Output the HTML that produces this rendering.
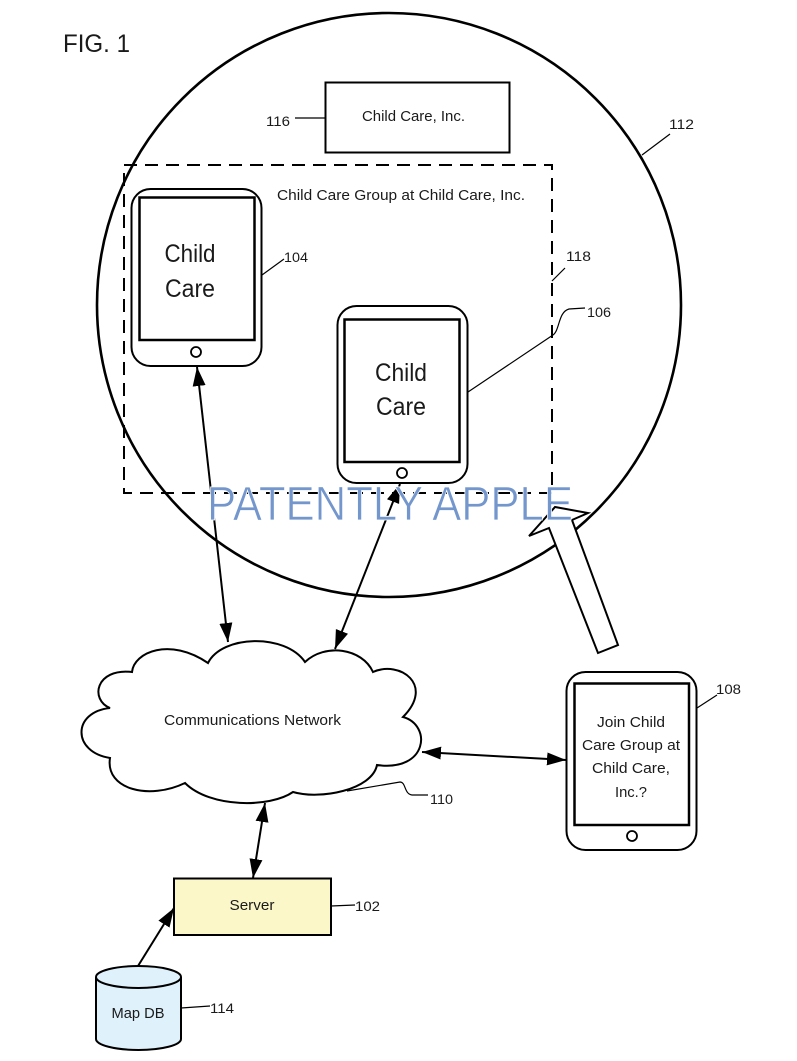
<!DOCTYPE html>
<html><head><meta charset="utf-8"><style>
html,body{margin:0;padding:0;background:#fff;}
svg{display:block;}
text{font-family:"Liberation Sans",Arial,sans-serif;fill:#1a1a1a;}
</style></head><body>
<svg width="797" height="1061" viewBox="0 0 797 1061" xmlns="http://www.w3.org/2000/svg">
<defs>
<marker id="ah" markerUnits="userSpaceOnUse" markerWidth="20" markerHeight="14" refX="19" refY="6.5" orient="auto-start-reverse" viewBox="0 0 20 14">
<path d="M0,0 L19,6.5 L0,13 z" fill="#000"/>
</marker>
</defs>
<rect width="797" height="1061" fill="#fff"/>

<text x="63" y="52" font-size="25" textLength="67" lengthAdjust="spacingAndGlyphs" fill="#333">FIG. 1</text>

<!-- big circle 112 -->
<circle cx="389" cy="305" r="292" fill="none" stroke="#000" stroke-width="2.6"/>
<line x1="642" y1="155" x2="670" y2="134" stroke="#000" stroke-width="1.2"/>
<text x="669" y="129" font-size="14" textLength="25" lengthAdjust="spacingAndGlyphs">112</text>

<!-- box 116 -->
<rect x="325.5" y="82.5" width="184" height="70" fill="#fff" stroke="#000" stroke-width="2"/>
<text x="362" y="121" font-size="14.5" textLength="103" lengthAdjust="spacingAndGlyphs">Child Care, Inc.</text>
<line x1="295" y1="118" x2="325" y2="118" stroke="#000" stroke-width="1.2"/>
<text x="266" y="126" font-size="14" textLength="24" lengthAdjust="spacingAndGlyphs">116</text>

<!-- dashed group rect 118 -->
<rect x="124" y="165" width="428" height="328" fill="none" stroke="#000" stroke-width="2" stroke-dasharray="13,8"/>
<text x="277" y="200" font-size="14.5" textLength="248" lengthAdjust="spacingAndGlyphs">Child Care Group at Child Care, Inc.</text>
<line x1="552" y1="281" x2="565" y2="268" stroke="#000" stroke-width="1.2"/>
<text x="566" y="261" font-size="14" textLength="25" lengthAdjust="spacingAndGlyphs">118</text>

<!-- device 104 -->
<rect x="131.5" y="189" width="130" height="177" rx="19" fill="#fff" stroke="#000" stroke-width="2"/>
<rect x="139.5" y="197.5" width="115" height="142.5" fill="#fff" stroke="#000" stroke-width="2.5"/>
<circle cx="196" cy="352" r="5" fill="#fff" stroke="#000" stroke-width="1.8"/>
<text x="190" y="262" font-size="25" text-anchor="middle" textLength="51" lengthAdjust="spacingAndGlyphs">Child</text>
<text x="190" y="297" font-size="25" text-anchor="middle" textLength="50" lengthAdjust="spacingAndGlyphs">Care</text>
<line x1="262" y1="275" x2="284" y2="259" stroke="#000" stroke-width="1.2"/>
<text x="284" y="262" font-size="14" textLength="24" lengthAdjust="spacingAndGlyphs">104</text>

<!-- device 106 -->
<rect x="337.5" y="306" width="130" height="177" rx="19" fill="#fff" stroke="#000" stroke-width="2"/>
<rect x="344.5" y="319.5" width="115" height="142.5" fill="#fff" stroke="#000" stroke-width="2.5"/>
<circle cx="402" cy="473" r="5" fill="#fff" stroke="#000" stroke-width="1.8"/>
<text x="401" y="381" font-size="25" text-anchor="middle" textLength="52" lengthAdjust="spacingAndGlyphs">Child</text>
<text x="401" y="415" font-size="25" text-anchor="middle" textLength="50" lengthAdjust="spacingAndGlyphs">Care</text>
<path d="M468,392 L553,335 C560,330 558,312 569,309 L585,308" fill="none" stroke="#000" stroke-width="1.2"/>
<text x="587" y="317" font-size="14" textLength="24" lengthAdjust="spacingAndGlyphs">106</text>

<!-- cloud 110 -->
<path d="M132,672 C134,652 170,637 208,663 C222,635 285,633 305,662 C325,643 362,648 373,672 C400,660 435,685 403,717 C432,725 428,772 377,765 C372,790 320,800 293,792 C270,808 210,808 185,783 C150,800 105,790 110,758 C72,752 72,712 110,708 C90,700 95,668 132,672 Z" fill="#fff" stroke="#000" stroke-width="2"/>
<text x="164" y="725" font-size="14.5" textLength="177" lengthAdjust="spacingAndGlyphs">Communications Network</text>
<path d="M347,791 L400,782 C406,782 404,794 412,795 L428,795" fill="none" stroke="#000" stroke-width="1.2"/>
<text x="430" y="804" font-size="14" textLength="23" lengthAdjust="spacingAndGlyphs">110</text>

<!-- device 108 -->
<rect x="566.5" y="672" width="130" height="178" rx="19" fill="#fff" stroke="#000" stroke-width="2"/>
<rect x="574.5" y="683.5" width="114.5" height="141.5" fill="#fff" stroke="#000" stroke-width="2.5"/>
<circle cx="632" cy="836" r="5" fill="#fff" stroke="#000" stroke-width="1.8"/>
<text x="631" y="727" font-size="15" text-anchor="middle" textLength="68" lengthAdjust="spacingAndGlyphs">Join Child</text>
<text x="631" y="750" font-size="15" text-anchor="middle" textLength="98" lengthAdjust="spacingAndGlyphs">Care Group at</text>
<text x="631" y="773" font-size="15" text-anchor="middle" textLength="78" lengthAdjust="spacingAndGlyphs">Child Care,</text>
<text x="631" y="797" font-size="15" text-anchor="middle" textLength="32" lengthAdjust="spacingAndGlyphs">Inc.?</text>
<line x1="697" y1="708" x2="717" y2="695" stroke="#000" stroke-width="1.2"/>
<text x="716" y="694" font-size="14" textLength="25" lengthAdjust="spacingAndGlyphs">108</text>

<!-- server 102 -->
<rect x="174" y="878.5" width="157" height="56.5" fill="#fcf7c9" stroke="#000" stroke-width="2"/>
<text x="252" y="910" font-size="15" text-anchor="middle" textLength="45" lengthAdjust="spacingAndGlyphs">Server</text>
<line x1="331" y1="906" x2="355" y2="905" stroke="#000" stroke-width="1.2"/>
<text x="355" y="911" font-size="14" textLength="25" lengthAdjust="spacingAndGlyphs">102</text>

<!-- Map DB 114 -->
<path d="M96,977 L96,1039 A42.5,11 0 0 0 181,1039 L181,977" fill="#dff1fb" stroke="#000" stroke-width="2"/>
<ellipse cx="138.5" cy="977" rx="42.5" ry="11" fill="#dff1fb" stroke="#000" stroke-width="2"/>
<text x="138" y="1018" font-size="15" text-anchor="middle" textLength="53" lengthAdjust="spacingAndGlyphs">Map DB</text>
<line x1="181" y1="1008" x2="210" y2="1006" stroke="#000" stroke-width="1.2"/>
<text x="210" y="1013" font-size="14" textLength="24" lengthAdjust="spacingAndGlyphs">114</text>

<!-- arrows -->
<line x1="197" y1="367" x2="228" y2="642" stroke="#000" stroke-width="2" marker-start="url(#ah)" marker-end="url(#ah)"/>
<line x1="400" y1="484" x2="335" y2="649" stroke="#000" stroke-width="2" marker-start="url(#ah)" marker-end="url(#ah)"/>
<line x1="422" y1="752" x2="566" y2="760" stroke="#000" stroke-width="2" marker-start="url(#ah)" marker-end="url(#ah)"/>
<line x1="265" y1="803" x2="253" y2="878" stroke="#000" stroke-width="2" marker-start="url(#ah)" marker-end="url(#ah)"/>
<line x1="138" y1="966" x2="174" y2="908" stroke="#000" stroke-width="2" marker-end="url(#ah)"/>

<!-- hollow arrow -->
<polygon points="549,528 529,536 555,507 588,513 572,520 618,645 598,653" fill="#fff" stroke="#000" stroke-width="2" stroke-linejoin="miter"/>

<!-- watermark -->
<text x="207" y="520" font-size="48" textLength="366" lengthAdjust="spacingAndGlyphs" style="fill:#7396cc;stroke:#fff;stroke-width:0.8">PATENTLY APPLE</text>
</svg>
</body></html>
